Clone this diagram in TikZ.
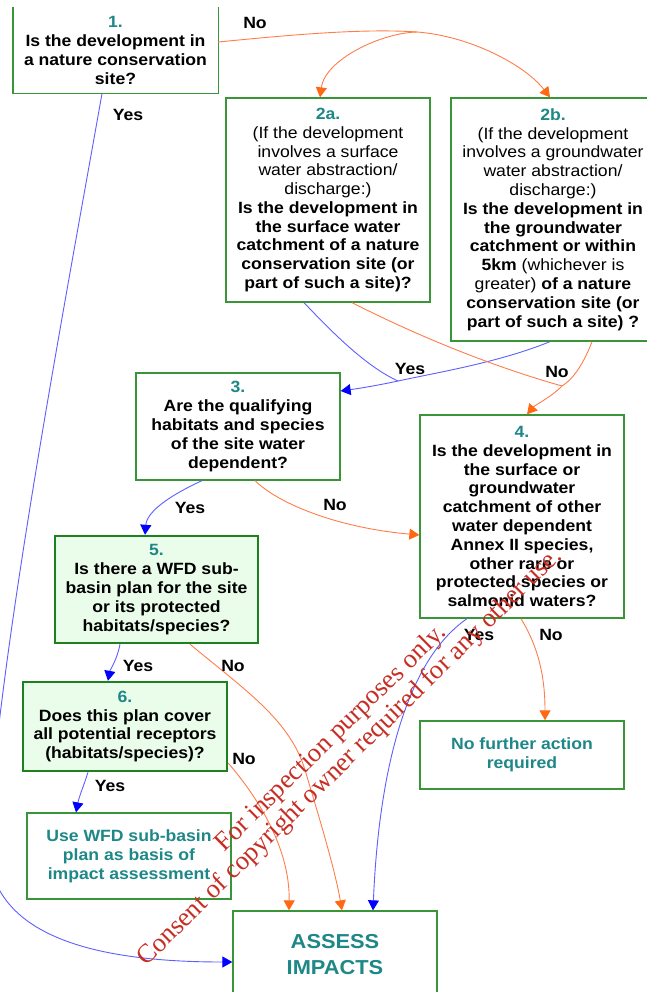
\documentclass[tikz,border=0pt]{standalone}
\usepackage{fontspec}
\setmainfont{Liberation Sans}[FakeStretch=1.08]
\newfontfamily\wmfont{Liberation Serif}
\usetikzlibrary{arrows.meta,calc}
\definecolor{boxgreen}{RGB}{56,150,56}
\definecolor{darkgreen}{RGB}{30,128,30}
\definecolor{lightfill}{RGB}{234,252,234}
\definecolor{tealc}{RGB}{30,135,135}
\definecolor{orangeline}{RGB}{255,125,75}
\definecolor{orangehead}{RGB}{255,105,20}
\definecolor{blueline}{RGB}{95,95,255}
\definecolor{bluehead}{RGB}{0,0,255}
\definecolor{wmred}{RGB}{200,45,35}
\begin{document}
\begin{tikzpicture}[x=1pt,y=-1pt,
  box/.style={draw=boxgreen,line width=1.3pt,minimum width=204pt,inner sep=0pt,align=center,
    font=\fontsize{16.3}{18.8}\selectfont\bfseries},
  keybox/.style={box,draw=darkgreen,line width=2.4pt,fill=lightfill},
  endbox/.style={box,text=tealc},
  lbl/.style={inner sep=0pt,font=\fontsize{16.3}{18.8}\selectfont\bfseries},
  noplain/.style={draw=orangeline,line width=0.9pt},
  yesplain/.style={draw=blueline,line width=0.9pt},
  noline/.style={noplain,-{Triangle[length=10pt,width=11pt,color=orangehead]}},
  yesline/.style={yesplain,-{Triangle[length=10pt,width=11pt,color=bluehead]}}
]
\useasboundingbox[fill=white] (0,0) rectangle (647,992);

% boxes
\node[box,draw=none,minimum height=85pt] (b1) at (115.5,50.5)
 {\textcolor{tealc}{1.}\\Is the development in\\a nature conservation\\site?};
\draw[boxgreen,line width=1.3pt] (b1.north west) -- (b1.south west) -- (b1.south east) -- (b1.north east);

\node[box,minimum height=204pt] (b2a) at (328,200)
 {\textcolor{tealc}{2a.}\\\mdseries(If the development\\\mdseries involves a surface\\\mdseries water abstraction/\\\mdseries discharge:)\\
  Is the development in\\the surface water\\catchment of a nature\\conservation site (or\\part of such a site)?};

\node[box,minimum height=243pt] (b2b) at (553,219.5)
 {\textcolor{tealc}{2b.}\\\mdseries(If the development\\\mdseries involves a groundwater\\\mdseries water abstraction/\\\mdseries discharge:)\\
  Is the development in\\the groundwater\\catchment or within\\5km {\mdseries(whichever is}\\{\mdseries greater)} of a nature\\conservation site (or\\part of such a site) ?};

\node[box,minimum height=107pt] (b3) at (238,426.5)
 {\textcolor{tealc}{3.}\\Are the qualifying\\habitats and species\\of the site water\\dependent?};

\node[box,minimum height=203pt] (b4) at (522,516.5)
 {\textcolor{tealc}{4.}\\Is the development in\\the surface or\\groundwater\\catchment of other\\water dependent\\Annex II species,\\other rare or\\protected species or\\salmonid waters?};

\node[keybox,minimum width=203pt,minimum height=107pt] (b5) at (156.5,589.5)
 {\textcolor{tealc}{5.}\\Is there a WFD sub-\\basin plan for the site\\or its protected\\habitats/species?};

\node[keybox,minimum height=89pt] (b6) at (125,726.5)
 {\textcolor{tealc}{6.}\\Does this plan cover\\all potential receptors\\(habitats/species)?};

\node[endbox,minimum height=86pt] (buse) at (129,856)
 {Use WFD sub-basin\\plan as basis of\\impact assessment};

\node[endbox,minimum height=68pt] (bnone) at (522,755)
 {No further action\\required};

\node[endbox,minimum height=88pt,font=\fontsize{20.2}{26}\selectfont\bfseries] (bas) at (335,955)
 {ASSESS\\IMPACTS};

% connectors
\coordinate (j1) at (417,32);
\draw[noplain] ($(b1.east)+(0,-8.5)$) .. controls (280,36) and (360,28) .. (j1);
\draw[noline] (j1) .. controls (470,36) and (525,65) .. ($(b2b.north)+(-3,0)$);
\draw[noline] (j1) .. controls (380,33) and (325,60) .. ($(b2a.north)+(-8,0)$);

\draw[yesline] ($(b1.south)+(-13.5,0)$) .. controls (60,330) and (0,650) .. (-12,840)
  .. controls (-14,930) and (80,962) .. ($(bas.west)+(0,7)$);

\coordinate (m1) at (398,381);
\draw[yesline] ($(b2b.south)+(-3,0)$) .. controls (500,362) and (440,372) .. (m1)
  .. controls (375,386) and (355,389) .. ($(b3.east)+(0,-35.5)$);
\draw[yesplain] ($(b2a.south)+(-24,0)$) .. controls (330,330) and (365,366) .. (m1);

\coordinate (m2) at (562,386);
\draw[noplain] ($(b2a.south)+(24,0)$) .. controls (390,322) and (470,360) .. (m2);
\draw[noline] ($(b2b.south)+(39,0)$) .. controls (585,360) and (575,378) .. (m2)
  .. controls (550,398) and (535,405) .. ($(b4.north)+(5,0)$);

\draw[yesline] ($(b3.south)+(-36,0)$) .. controls (175,493) and (147,510) .. ($(b5.north)+(-11.5,0)$);
\draw[noline] ($(b3.south)+(17,0)$) .. controls (280,505) and (340,528) .. ($(b4.west)+(0,18.5)$);

\draw[yesline] ($(b4.south)+(-55,0)$) .. controls (400,665) and (378,790) .. ($(bas.north)+(38,0)$);
\draw[noline] ($(b4.south)+(-1,0)$) .. controls (540,650) and (545,680) .. ($(bnone.north)+(23,0)$);

\draw[yesline] ($(b5.south)+(-36.5,0)$) .. controls (117,660) and (110,670) .. ($(b6.north)+(-17,0)$);
\draw[noline] ($(b5.south)+(33.5,0)$) .. controls (245,690) and (290,720) .. (305,770)
  .. controls (320,820) and (335,870) .. ($(bas.north)+(7,0)$);

\draw[noline] ($(b6.east)+(0,36.5)$) .. controls (260,800) and (290,850) .. ($(bas.north)+(-46,0)$);
\draw[yesline] ($(b6.south)+(-37,0)$) .. controls (84,785) and (79,797) .. ($(buse.north)+(-53,0)$);

% labels
\node[lbl] (l1n) at (255,23) {No};
\node[lbl] (l1y) at (128,115) {Yes};
\node[lbl] (l2y) at (410,369) {Yes};
\node[lbl] (l2n) at (557,372) {No};
\node[lbl] (l3y) at (190,508) {Yes};
\node[lbl] (l3n) at (335,505) {No};
\node[lbl] (l4y) at (479,635) {Yes};
\node[lbl] (l4n) at (551,635) {No};
\node[lbl] (l5y) at (138,666) {Yes};
\node[lbl] (l5n) at (233,666) {No};
\node[lbl] (l6n) at (244,759) {No};
\node[lbl] (l6y) at (110,786) {Yes};

% watermark
\node[rotate=44.5,text=wmred,align=center,inner sep=0pt,
  font=\wmfont\fontsize{26.5}{26.5}\selectfont] (wm) at (341,748)
 {For inspection purposes only.\\Consent of copyright owner required for any other use.};
\end{tikzpicture}
\end{document}
